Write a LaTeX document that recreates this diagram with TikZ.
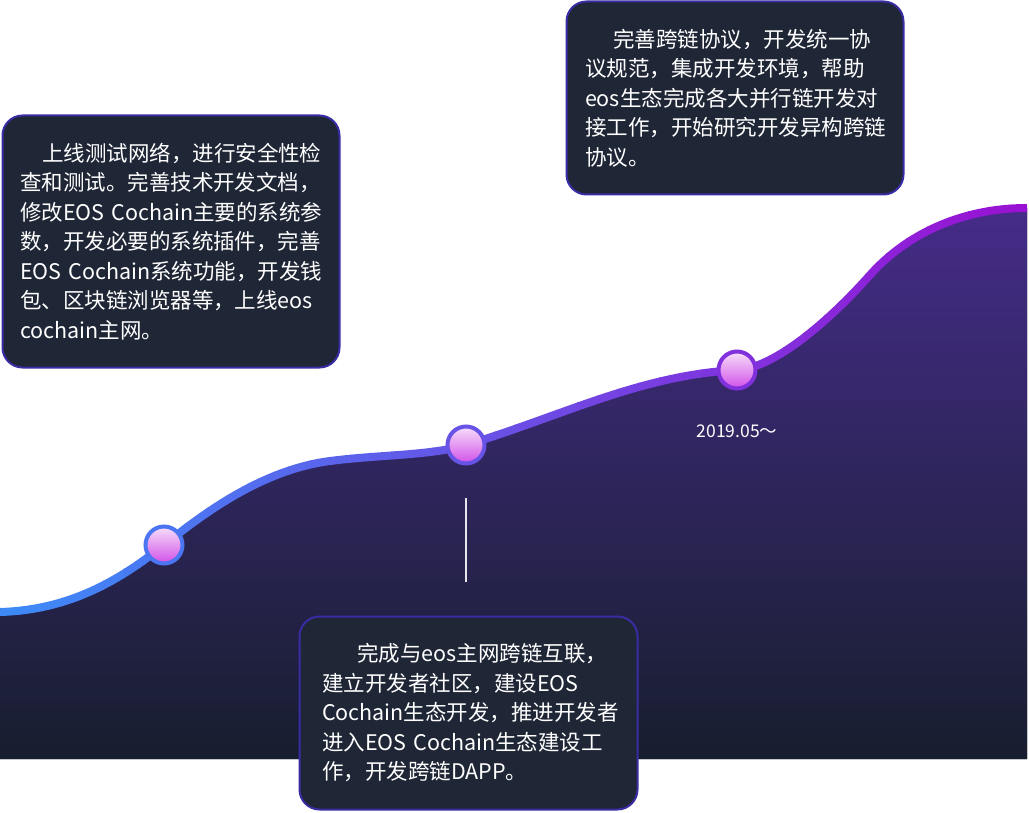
\documentclass[tikz,border=0pt]{standalone}
\usepackage{fontspec}
\usepackage{xcolor}
\usepackage{tikz}
\usetikzlibrary{calc}
\newfontfamily\cjk{Noto Sans CJK SC}
\definecolor{boxfill}{RGB}{31,38,54}
\definecolor{boxline}{RGB}{58,44,165}
\definecolor{curveL}{RGB}{61,138,247}
\definecolor{curveR}{RGB}{155,15,210}
\definecolor{areaTop}{RGB}{69,44,136}
\definecolor{areaBot}{RGB}{23,30,46}
\definecolor{dotTop}{RGB}{246,222,250}
\definecolor{dotBot}{RGB}{210,80,232}

% 曲线（经过三个节点）
\newcommand\curveline{(0,612) .. controls (70,610) and (120,580) .. (164,545)
  .. controls (200,516.4) and (260,470) .. (330,461)
  .. controls (380,454.5) and (430,455.8) .. (466,445)
  .. controls (560,416.8) and (640,375) .. (737,370)
  .. controls (775,368) and (830,320) .. (870,275)
  .. controls (905,235.6) and (960,208) .. (1027,208)}

\begin{document}
\begin{tikzpicture}[x=1pt,y=-1pt,
    infobox/.style={draw=boxline,line width=2pt,fill=boxfill,rounded corners=20pt,
      text=white,font=\cjk\fontsize{21.5}{29.5}\selectfont,align=left,inner sep=0pt},
    dot/.style={circle,line width=4pt,minimum size=37pt,inner sep=0pt,
      top color=dotTop,bottom color=dotBot},
    tickline/.style={line width=2pt,color={rgb,255:red,230;green,230;blue,235}},
    datelabel/.style={text=white,font=\cjk\fontsize{17.5}{20}\selectfont}]
    \useasboundingbox (0,0) rectangle (1029,813);

    % 曲线下方的渐变区域
    \fill[top color=areaTop,bottom color=areaBot] \curveline -- (1027,759) -- (0,759) -- cycle;

    % 三个说明框
    \node[infobox,minimum width=337pt,minimum height=252pt,text width=302pt] (box1) at (171,241.5)
      {\hspace*{22pt}上线测试网络，进行安全性检\\
       查和测试。完善技术开发文档，\\
       修改EOS~Cochain主要的系统参\\
       数，开发必要的系统插件，完善\\
       EOS~Cochain系统功能，开发钱\\
       包、区块链浏览器等，上线eos\\
       cochain主网。};
    \node[infobox,minimum width=337pt,minimum height=193pt,text width=300pt] (box2) at (735,98)
      {\hspace*{28pt}完善跨链协议，开发统一协\\
       议规范，集成开发环境，帮助\\
       eos生态完成各大并行链开发对\\
       接工作，开始研究开发异构跨链\\
       协议。};
    \node[infobox,minimum width=338pt,minimum height=193pt,text width=293pt] (box3) at (468.5,713)
      {\hspace*{35pt}完成与eos主网跨链互联，\\
       建立开发者社区，建设EOS\\
       Cochain生态开发，推进开发者\\
       进入EOS~Cochain生态建设工\\
       作，开发跨链DAPP。};

    % 曲线：分段着色，从蓝到紫
    \foreach \i in {0,...,49}{
      \pgfmathtruncatemacro{\p}{\i*2}
      \begin{scope}
        \clip (\i*20.6,150) rectangle ({(\i+1)*20.6+1},650);
        \draw[line width=8pt,color=curveR!\p!curveL] \curveline;
      \end{scope}
    }

    % 节点圆点
    \node[dot,draw=curveR!16!curveL] (m1) at (164,545) {};
    \node[dot,draw=curveR!45!curveL] (m2) at (466,445) {};
    \node[dot,draw=curveR!72!curveL] (m3) at (737,370) {};

    % 竖线与日期
    \coordinate (tickTop) at (466,498);
    \coordinate (tickBot) at (466,582);
    \draw[tickline] (tickTop) -- (tickBot);
    \node[datelabel] (date) at (737,431) {2019.05～};
\end{tikzpicture}
\end{document}
